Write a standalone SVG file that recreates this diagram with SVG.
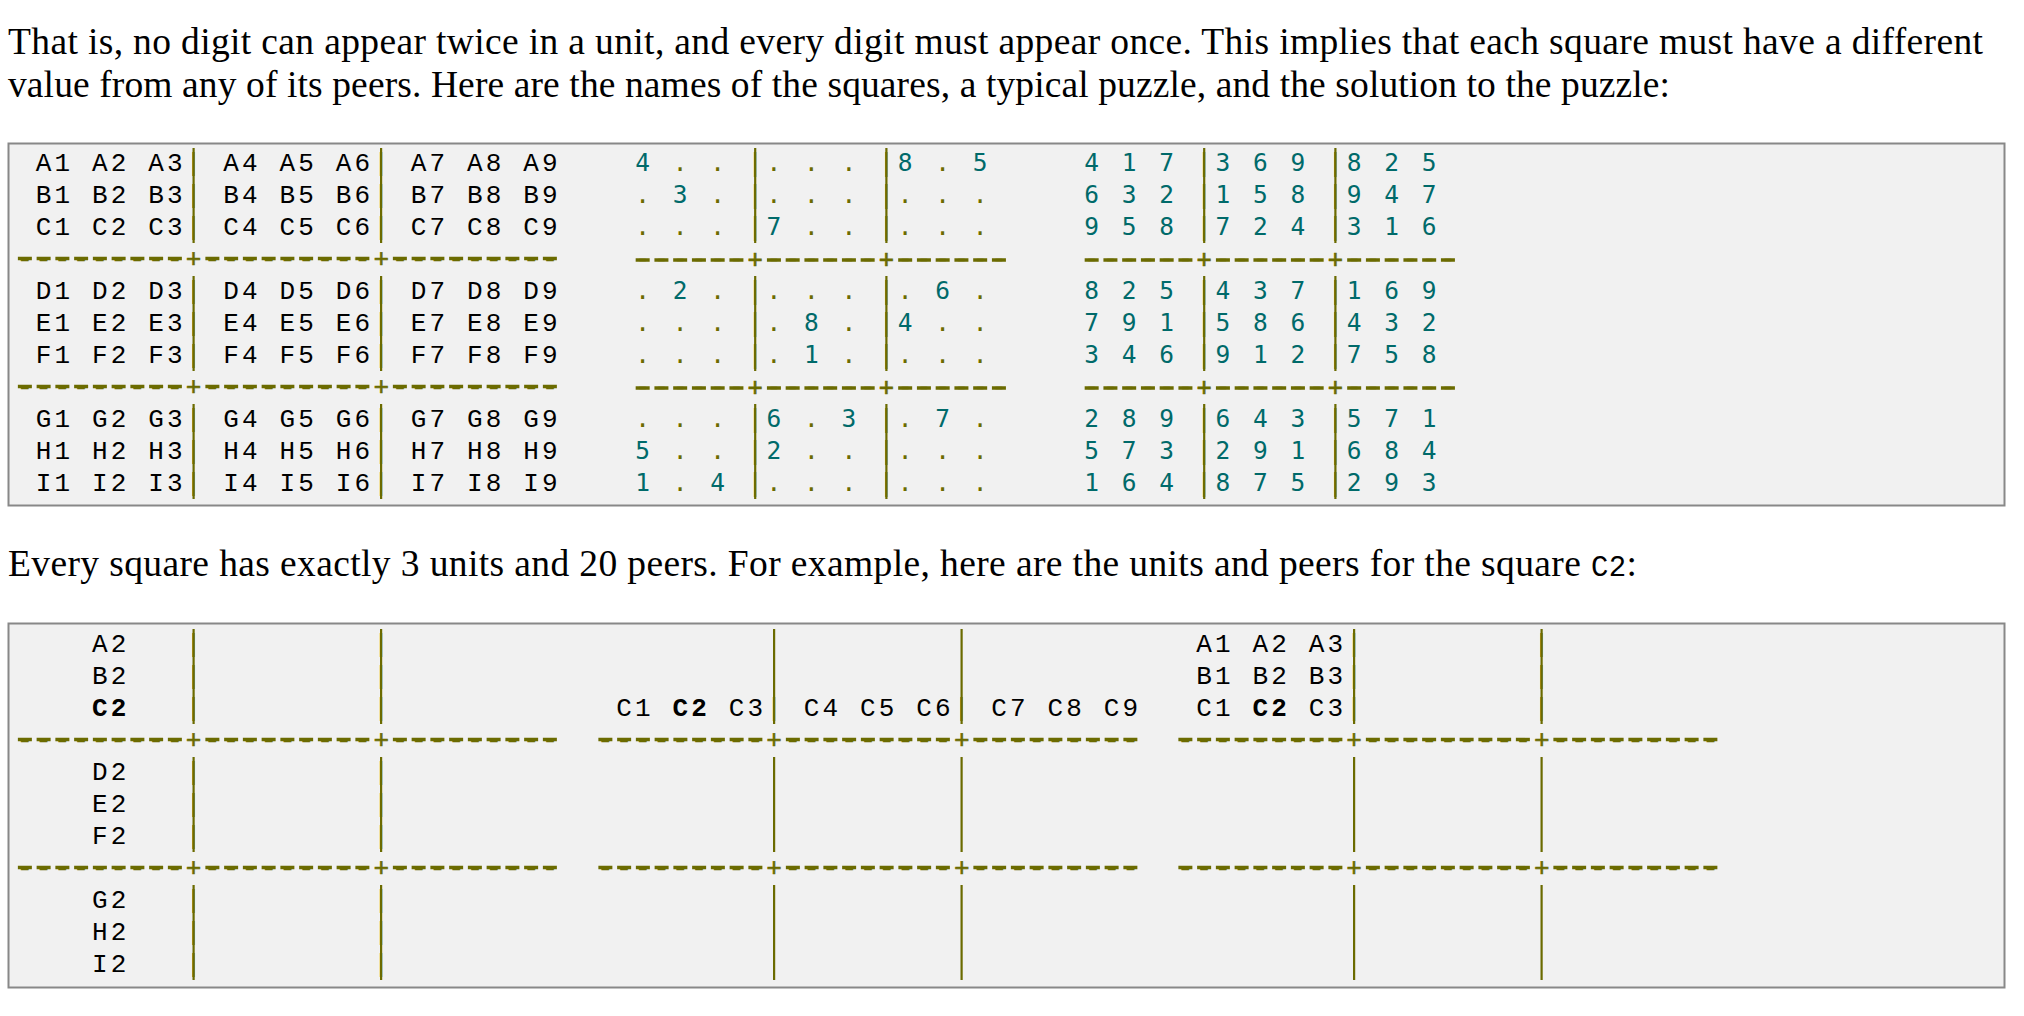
<svg xmlns="http://www.w3.org/2000/svg" width="2024" height="1016" viewBox="0 0 2024 1016">
<style>
.body{font-family:"Liberation Serif","Times New Roman",serif;font-size:37.5px;fill:#000}
.code{font-family:"Liberation Mono",monospace;font-size:29px}
.nm{font-family:"Liberation Mono","Courier New",monospace;font-size:26px;letter-spacing:3.15px;fill:#000}
.pz{font-family:"DejaVu Sans Mono",monospace;font-size:24.5px;letter-spacing:4px}
.ol{fill:#6b6b00}
.tl{fill:#006a6a}
.sk{stroke:#6b6b00;stroke-width:0.6}
.b{font-weight:bold}
.box{fill:#f1f1f1;stroke:#888;stroke-width:2}
.gl{stroke:#6b6b00;stroke-width:2.2;fill:none}
.dash{stroke:#6b6b00;stroke-width:3.4;stroke-dasharray:14 4.75;fill:none}
</style>
<rect width="2024" height="1016" fill="#fff"/>
<g id="intro">
<text class="body" x="8" y="54" textLength="1975" lengthAdjust="spacing">That is, no digit can appear twice in a unit, and every digit must appear once. This implies that each square must have a different</text>
<text class="body" x="8" y="97" textLength="1662" lengthAdjust="spacing">value from any of its peers. Here are the names of the squares, a typical puzzle, and the solution to the puzzle:</text>
</g>
<g id="box1">
<rect class="box" x="8.5" y="143.5" width="1996" height="362"/>
<g id="grid-lines-1">
<g class="gl">
<path d="M193.6 148V243M381.1 148V243M193.6 276V371M381.1 276V371M193.6 404V499M381.1 404V499"/>
<path d="M755.2 148V243M886.4 148V243M755.2 276V371M886.4 276V371M755.2 404V499M886.4 404V499"/>
<path d="M1204.2 148V243M1335.4 148V243M1204.2 276V371M1335.4 276V371M1204.2 404V499M1335.4 404V499"/>
</g>
<g class="dash">
<line x1="17.875" y1="258.5" x2="181.875" y2="258.5"/><line x1="205.375" y1="258.5" x2="369.375" y2="258.5"/><line x1="392.875" y1="258.5" x2="556.875" y2="258.5"/>
<line x1="17.875" y1="386.5" x2="181.875" y2="386.5"/><line x1="205.375" y1="386.5" x2="369.375" y2="386.5"/><line x1="392.875" y1="386.5" x2="556.875" y2="386.5"/>
<line x1="635.675" y1="260" x2="743.425" y2="260"/><line x1="766.925" y1="260" x2="874.675" y2="260"/><line x1="898.175" y1="260" x2="1005.925" y2="260"/>
<line x1="635.675" y1="388" x2="743.425" y2="388"/><line x1="766.925" y1="388" x2="874.675" y2="388"/><line x1="898.175" y1="388" x2="1005.925" y2="388"/>
<line x1="1084.675" y1="260" x2="1192.425" y2="260"/><line x1="1215.925" y1="260" x2="1323.675" y2="260"/><line x1="1347.175" y1="260" x2="1454.925" y2="260"/>
<line x1="1084.675" y1="388" x2="1192.425" y2="388"/><line x1="1215.925" y1="388" x2="1323.675" y2="388"/><line x1="1347.175" y1="388" x2="1454.925" y2="388"/>
</g>
</g>
<g id="names-grid" class="nm">
<text y="171"><tspan x="17.1">&#160;A1 A2 A3</tspan><tspan x="185.85" class="ol">|</tspan><tspan x="204.6"> A4 A5 A6</tspan><tspan x="373.35" class="ol">|</tspan><tspan x="392.1"> A7 A8 A9</tspan></text>
<text y="203"><tspan x="17.1">&#160;B1 B2 B3</tspan><tspan x="185.85" class="ol">|</tspan><tspan x="204.6"> B4 B5 B6</tspan><tspan x="373.35" class="ol">|</tspan><tspan x="392.1"> B7 B8 B9</tspan></text>
<text y="235"><tspan x="17.1">&#160;C1 C2 C3</tspan><tspan x="185.85" class="ol">|</tspan><tspan x="204.6"> C4 C5 C6</tspan><tspan x="373.35" class="ol">|</tspan><tspan x="392.1"> C7 C8 C9</tspan></text>
<text class="ol sk" x="17.1" y="267">---------+---------+---------</text>
<text y="299"><tspan x="17.1">&#160;D1 D2 D3</tspan><tspan x="185.85" class="ol">|</tspan><tspan x="204.6"> D4 D5 D6</tspan><tspan x="373.35" class="ol">|</tspan><tspan x="392.1"> D7 D8 D9</tspan></text>
<text y="331"><tspan x="17.1">&#160;E1 E2 E3</tspan><tspan x="185.85" class="ol">|</tspan><tspan x="204.6"> E4 E5 E6</tspan><tspan x="373.35" class="ol">|</tspan><tspan x="392.1"> E7 E8 E9</tspan></text>
<text y="363"><tspan x="17.1">&#160;F1 F2 F3</tspan><tspan x="185.85" class="ol">|</tspan><tspan x="204.6"> F4 F5 F6</tspan><tspan x="373.35" class="ol">|</tspan><tspan x="392.1"> F7 F8 F9</tspan></text>
<text class="ol sk" x="17.1" y="395">---------+---------+---------</text>
<text y="427"><tspan x="17.1">&#160;G1 G2 G3</tspan><tspan x="185.85" class="ol">|</tspan><tspan x="204.6"> G4 G5 G6</tspan><tspan x="373.35" class="ol">|</tspan><tspan x="392.1"> G7 G8 G9</tspan></text>
<text y="459"><tspan x="17.1">&#160;H1 H2 H3</tspan><tspan x="185.85" class="ol">|</tspan><tspan x="204.6"> H4 H5 H6</tspan><tspan x="373.35" class="ol">|</tspan><tspan x="392.1"> H7 H8 H9</tspan></text>
<text y="491"><tspan x="17.1">&#160;I1 I2 I3</tspan><tspan x="185.85" class="ol">|</tspan><tspan x="204.6"> I4 I5 I6</tspan><tspan x="373.35" class="ol">|</tspan><tspan x="392.1"> I7 I8 I9</tspan></text>
</g>
<g id="puzzle-grid" class="pz ol">
<text y="171"><tspan class="tl" x="635.3">4</tspan><tspan x="654.05"> . . |. . . |</tspan><tspan class="tl" x="897.8">8</tspan><tspan x="916.55"> . </tspan><tspan class="tl" x="972.8">5</tspan></text>
<text y="203"><tspan x="635.3">. </tspan><tspan class="tl" x="672.8">3</tspan><tspan x="691.55"> . |. . . |. . .</tspan></text>
<text y="235"><tspan x="635.3">. . . |</tspan><tspan class="tl" x="766.55">7</tspan><tspan x="785.3"> . . |. . .</tspan></text>
<text class="sk" x="635.3" y="267">------+------+------</text>
<text y="299"><tspan x="635.3">. </tspan><tspan class="tl" x="672.8">2</tspan><tspan x="691.55"> . |. . . |. </tspan><tspan class="tl" x="935.3">6</tspan><tspan x="954.05"> .</tspan></text>
<text y="331"><tspan x="635.3">. . . |. </tspan><tspan class="tl" x="804.05">8</tspan><tspan x="822.8"> . |</tspan><tspan class="tl" x="897.8">4</tspan><tspan x="916.55"> . .</tspan></text>
<text y="363"><tspan x="635.3">. . . |. </tspan><tspan class="tl" x="804.05">1</tspan><tspan x="822.8"> . |. . .</tspan></text>
<text class="sk" x="635.3" y="395">------+------+------</text>
<text y="427"><tspan x="635.3">. . . |</tspan><tspan class="tl" x="766.55">6</tspan><tspan x="785.3"> . </tspan><tspan class="tl" x="841.55">3</tspan><tspan x="860.3"> |. </tspan><tspan class="tl" x="935.3">7</tspan><tspan x="954.05"> .</tspan></text>
<text y="459"><tspan class="tl" x="635.3">5</tspan><tspan x="654.05"> . . |</tspan><tspan class="tl" x="766.55">2</tspan><tspan x="785.3"> . . |. . .</tspan></text>
<text y="491"><tspan class="tl" x="635.3">1</tspan><tspan x="654.05"> . </tspan><tspan class="tl" x="710.3">4</tspan><tspan x="729.05"> |. . . |. . .</tspan></text>
</g>
<g id="solution-grid" class="pz tl">
<text y="171"><tspan x="1084.3">4 1 7 </tspan><tspan class="ol" x="1196.8">|</tspan><tspan x="1215.55">3 6 9 </tspan><tspan class="ol" x="1328.05">|</tspan><tspan x="1346.8">8 2 5</tspan></text>
<text y="203"><tspan x="1084.3">6 3 2 </tspan><tspan class="ol" x="1196.8">|</tspan><tspan x="1215.55">1 5 8 </tspan><tspan class="ol" x="1328.05">|</tspan><tspan x="1346.8">9 4 7</tspan></text>
<text y="235"><tspan x="1084.3">9 5 8 </tspan><tspan class="ol" x="1196.8">|</tspan><tspan x="1215.55">7 2 4 </tspan><tspan class="ol" x="1328.05">|</tspan><tspan x="1346.8">3 1 6</tspan></text>
<text class="ol sk" x="1084.3" y="267">------+------+------</text>
<text y="299"><tspan x="1084.3">8 2 5 </tspan><tspan class="ol" x="1196.8">|</tspan><tspan x="1215.55">4 3 7 </tspan><tspan class="ol" x="1328.05">|</tspan><tspan x="1346.8">1 6 9</tspan></text>
<text y="331"><tspan x="1084.3">7 9 1 </tspan><tspan class="ol" x="1196.8">|</tspan><tspan x="1215.55">5 8 6 </tspan><tspan class="ol" x="1328.05">|</tspan><tspan x="1346.8">4 3 2</tspan></text>
<text y="363"><tspan x="1084.3">3 4 6 </tspan><tspan class="ol" x="1196.8">|</tspan><tspan x="1215.55">9 1 2 </tspan><tspan class="ol" x="1328.05">|</tspan><tspan x="1346.8">7 5 8</tspan></text>
<text class="ol sk" x="1084.3" y="395">------+------+------</text>
<text y="427"><tspan x="1084.3">2 8 9 </tspan><tspan class="ol" x="1196.8">|</tspan><tspan x="1215.55">6 4 3 </tspan><tspan class="ol" x="1328.05">|</tspan><tspan x="1346.8">5 7 1</tspan></text>
<text y="459"><tspan x="1084.3">5 7 3 </tspan><tspan class="ol" x="1196.8">|</tspan><tspan x="1215.55">2 9 1 </tspan><tspan class="ol" x="1328.05">|</tspan><tspan x="1346.8">6 8 4</tspan></text>
<text y="491"><tspan x="1084.3">1 6 4 </tspan><tspan class="ol" x="1196.8">|</tspan><tspan x="1215.55">8 7 5 </tspan><tspan class="ol" x="1328.05">|</tspan><tspan x="1346.8">2 9 3</tspan></text>
</g>
</g>
<g id="para2">
<text class="body" x="8" y="576" textLength="1629" lengthAdjust="spacing">Every square has exactly 3 units and 20 peers. For example, here are the units and peers for the square <tspan class="code">C2</tspan>:</text>
</g>
<g id="box2">
<rect class="box" x="8.5" y="623.5" width="1996" height="364"/>
<g id="grid-lines-2">
<g class="gl">
<path d="M193.6 629V724M381.1 629V724M193.6 757V852M381.1 757V852M193.6 885V980M381.1 885V980"/>
<path d="M774.1 629V724M961.6 629V724M774.1 757V852M961.6 757V852M774.1 885V980M961.6 885V980"/>
<path d="M1354.1 629V724M1541.6 629V724M1354.1 757V852M1541.6 757V852M1354.1 885V980M1541.6 885V980"/>
</g>
<g class="dash">
<line x1="17.875" y1="739.5" x2="181.875" y2="739.5"/><line x1="205.375" y1="739.5" x2="369.375" y2="739.5"/><line x1="392.875" y1="739.5" x2="556.875" y2="739.5"/>
<line x1="17.875" y1="867.5" x2="181.875" y2="867.5"/><line x1="205.375" y1="867.5" x2="369.375" y2="867.5"/><line x1="392.875" y1="867.5" x2="556.875" y2="867.5"/>
<line x1="598.375" y1="739.5" x2="762.375" y2="739.5"/><line x1="785.875" y1="739.5" x2="949.875" y2="739.5"/><line x1="973.375" y1="739.5" x2="1137.375" y2="739.5"/>
<line x1="598.375" y1="867.5" x2="762.375" y2="867.5"/><line x1="785.875" y1="867.5" x2="949.875" y2="867.5"/><line x1="973.375" y1="867.5" x2="1137.375" y2="867.5"/>
<line x1="1178.375" y1="739.5" x2="1342.375" y2="739.5"/><line x1="1365.875" y1="739.5" x2="1529.875" y2="739.5"/><line x1="1553.375" y1="739.5" x2="1717.375" y2="739.5"/>
<line x1="1178.375" y1="867.5" x2="1342.375" y2="867.5"/><line x1="1365.875" y1="867.5" x2="1529.875" y2="867.5"/><line x1="1553.375" y1="867.5" x2="1717.375" y2="867.5"/>
</g>
</g>
<g id="unit-column" class="nm">
<text y="652"><tspan x="92.1">A2</tspan><tspan x="185.85" class="ol">|</tspan><tspan x="373.35" class="ol">|</tspan></text>
<text y="684"><tspan x="92.1">B2</tspan><tspan x="185.85" class="ol">|</tspan><tspan x="373.35" class="ol">|</tspan></text>
<text y="716"><tspan x="92.1" class="b">C2</tspan><tspan x="185.85" class="ol">|</tspan><tspan x="373.35" class="ol">|</tspan></text>
<text class="ol sk" x="17.1" y="748">---------+---------+---------</text>
<text y="780"><tspan x="92.1">D2</tspan><tspan x="185.85" class="ol">|</tspan><tspan x="373.35" class="ol">|</tspan></text>
<text y="812"><tspan x="92.1">E2</tspan><tspan x="185.85" class="ol">|</tspan><tspan x="373.35" class="ol">|</tspan></text>
<text y="844"><tspan x="92.1">F2</tspan><tspan x="185.85" class="ol">|</tspan><tspan x="373.35" class="ol">|</tspan></text>
<text class="ol sk" x="17.1" y="876">---------+---------+---------</text>
<text y="908"><tspan x="92.1">G2</tspan><tspan x="185.85" class="ol">|</tspan><tspan x="373.35" class="ol">|</tspan></text>
<text y="940"><tspan x="92.1">H2</tspan><tspan x="185.85" class="ol">|</tspan><tspan x="373.35" class="ol">|</tspan></text>
<text y="972"><tspan x="92.1">I2</tspan><tspan x="185.85" class="ol">|</tspan><tspan x="373.35" class="ol">|</tspan></text>
</g>
<g id="unit-row" class="nm">
<text y="716"><tspan x="616.35">C1 </tspan><tspan x="672.6" class="b">C2</tspan><tspan x="710.1"> C3</tspan><tspan x="766.35" class="ol">|</tspan><tspan x="785.1"> C4 C5 C6</tspan><tspan x="953.85" class="ol">|</tspan><tspan x="972.6"> C7 C8 C9</tspan></text>
<text class="ol sk" x="597.6" y="748">---------+---------+---------</text>
<text class="ol sk" x="597.6" y="876">---------+---------+---------</text>
</g>
<g id="unit-box" class="nm">
<text y="652"><tspan x="1196.35">A1 A2 A3</tspan><tspan x="1346.35" class="ol">|</tspan><tspan x="1533.85" class="ol">|</tspan></text>
<text y="684"><tspan x="1196.35">B1 B2 B3</tspan><tspan x="1346.35" class="ol">|</tspan><tspan x="1533.85" class="ol">|</tspan></text>
<text y="716"><tspan x="1196.35">C1 </tspan><tspan x="1252.6" class="b">C2</tspan><tspan x="1290.1"> C3</tspan><tspan x="1346.35" class="ol">|</tspan><tspan x="1533.85" class="ol">|</tspan></text>
<text class="ol sk" x="1177.6" y="748">---------+---------+---------</text>
<text class="ol sk" x="1177.6" y="876">---------+---------+---------</text>
</g>
</g>
</svg>
